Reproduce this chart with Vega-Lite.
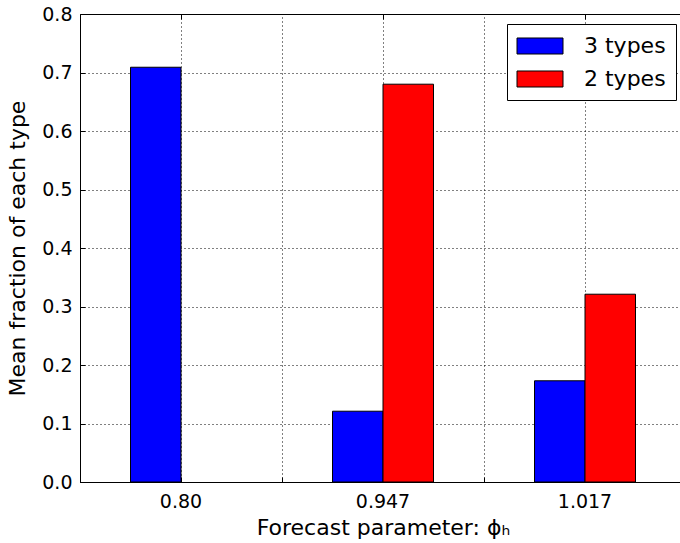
{
  "$schema": "https://vega.github.io/schema/vega-lite/v6.json",
  "autosize": {"type": "none"},
  "padding": {"left": 80, "top": 14, "right": 0, "bottom": 61},
  "width": 600,
  "height": 468,
  "background": "white",
  "config": {
    "font": "DejaVu Sans",
    "view": {"stroke": null},
    "axis": {
      "domainColor": "black",
      "domainWidth": 1,
      "tickColor": "black",
      "labelColor": "black",
      "titleColor": "black",
      "labelFont": "DejaVu Sans",
      "titleFont": "DejaVu Sans",
      "titleFontWeight": "normal",
      "labelFontSize": 19,
      "titleFontSize": 22,
      "gridColor": "black",
      "gridDash": [1, 3],
      "gridOpacity": 1,
      "gridWidth": 1
    }
  },
  "data": {
    "values": [
      {"phi": "0.80", "type": "3 types", "value": 0.709},
      {"phi": "0.947", "type": "3 types", "value": 0.121},
      {"phi": "0.947", "type": "2 types", "value": 0.680},
      {"phi": "1.017", "type": "3 types", "value": 0.173},
      {"phi": "1.017", "type": "2 types", "value": 0.321}
    ]
  },
  "resolve": {"axis": {"x": "independent", "y": "independent"}},
  "layer": [
    {
      "mark": {"type": "bar", "opacity": 0},
      "encoding": {
        "x": {
          "field": "phi", "type": "nominal", "sort": ["0.80", "0.947", "1.017"],
          "scale": {"range": [0, 606], "paddingInner": 0, "paddingOuter": 0},
          "axis": {"orient": "bottom", "bandPosition": 0, "labels": false, "title": null, "grid": true, "ticks": true, "tickSize": -5, "domain": true}
        }
      }
    },
    {
      "mark": {"type": "bar", "opacity": 0},
      "encoding": {
        "x": {
          "field": "phi", "type": "nominal", "sort": ["0.80", "0.947", "1.017"],
          "axis": {"orient": "top", "bandPosition": 0.5, "labels": false, "title": null, "grid": false, "ticks": true, "tickSize": -5, "domain": true}
        },
        "y": {
          "field": "value", "type": "quantitative",
          "axis": {"orient": "right", "labels": false, "title": null, "grid": false, "ticks": false, "domain": false}
        }
      }
    },
    {
      "mark": {"type": "bar", "stroke": "black", "strokeWidth": 1},
      "encoding": {
        "x": {
          "field": "phi", "type": "nominal", "sort": ["0.80", "0.947", "1.017"],
          "axis": {"orient": "bottom", "bandPosition": 0.5, "labelAngle": 0, "grid": true, "tickSize": -5, "labelPadding": 15, "title": "Forecast parameter: ϕₕ", "titlePadding": 6, "domain": false}
        },
        "xOffset": {
          "field": "type", "type": "nominal", "sort": ["3 types", "2 types"],
          "scale": {"paddingInner": 0, "paddingOuter": 1}
        },
        "y": {
          "field": "value", "type": "quantitative",
          "scale": {"domain": [0, 0.8], "nice": false},
          "axis": {"orient": "left", "values": [0, 0.1, 0.2, 0.3, 0.4, 0.5, 0.6, 0.7, 0.8], "format": ".1f", "grid": true, "tickSize": -5, "labelPadding": 13, "title": "Mean fraction of each type", "titlePadding": 12}
        },
        "color": {
          "field": "type", "type": "nominal",
          "scale": {"domain": ["3 types", "2 types"], "range": ["#0000ff", "#ff0000"]},
          "legend": {
            "orient": "none", "legendX": 427, "legendY": 10, "title": null,
            "strokeColor": "black", "fillColor": "white", "padding": 10,
            "symbolType": "M-2,-0.696H2V0.696H-2Z", "symbolSize": 529,
            "symbolOffset": 11,
            "symbolStrokeColor": "black", "symbolStrokeWidth": 1, "symbolOpacity": 1,
            "labelFontSize": 22, "labelFont": "DejaVu Sans", "labelColor": "black",
            "labelOffset": 32, "rowPadding": 10, "cornerRadius": 0
          }
        }
      }
    }
  ]
}
